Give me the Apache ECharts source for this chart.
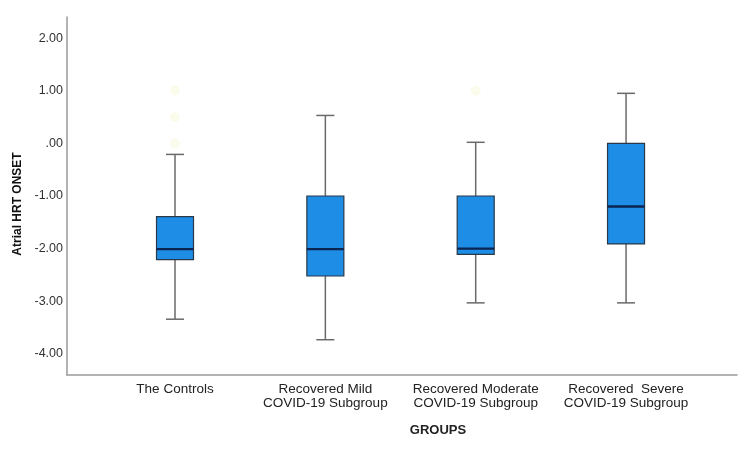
<!DOCTYPE html>
<html>
<head>
<meta charset="utf-8">
<script src="https://cdn.jsdelivr.net/npm/echarts@6/dist/echarts.min.js"></script>
<style>
html,body{margin:0;padding:0;background:#fff;}
#chart{width:750px;height:449px;}
</style>
</head>
<body>
<div id="chart"></div>
<script>
// ---- data ----
const categories = [
  'The Controls',
  'Recovered Mild\nCOVID-19 Subgroup',
  'Recovered Moderate\nCOVID-19 Subgroup',
  'Recovered  Severe\nCOVID-19 Subgroup'
];
const whiskerLow  = [-3.34, -3.73, -3.03, -3.03];
const q1          = [-2.21, -2.52, -2.11, -1.91];
const median      = [-2.01, -2.01, -2.00, -1.20];
const q3          = [-1.39, -1.00, -1.00,  0.00];
const whiskerHigh = [-0.21,  0.53,  0.02,  0.95];
const outlierGroup = [0, 0, 0, 2];
const outlierValue = [1.01, 0.50, 0.00, 1.00];
const yTicks = [-4, -3, -2, -1, 0, 1, 2];

// ---- build ----
const boxData = categories.map((c, i) => [i, whiskerLow[i], q1[i], median[i], q3[i], whiskerHigh[i]]);
const outlierData = outlierGroup.map((g, i) => [g, outlierValue[i]]);

const chart = echarts.init(document.getElementById('chart'));
const FONT = '"Liberation Sans", Arial, sans-serif';

function renderBox(params, api) {
  const x = api.value(0);
  const pLow = api.coord([x, api.value(1)]);
  const pQ1 = api.coord([x, api.value(2)]);
  const pMed = api.coord([x, api.value(3)]);
  const pQ3 = api.coord([x, api.value(4)]);
  const pHigh = api.coord([x, api.value(5)]);
  const cx = pLow[0];
  const hw = 18.5, cap = 9;
  const wStyle = {stroke: '#6a6a6a', lineWidth: 1.5};
  return {
    type: 'group',
    children: [
      {type: 'line', shape: {x1: cx, y1: pHigh[1], x2: cx, y2: pQ3[1]}, style: wStyle},
      {type: 'line', shape: {x1: cx, y1: pQ1[1], x2: cx, y2: pLow[1]}, style: wStyle},
      {type: 'line', shape: {x1: cx - cap, y1: pHigh[1], x2: cx + cap, y2: pHigh[1]}, style: wStyle},
      {type: 'line', shape: {x1: cx - cap, y1: pLow[1], x2: cx + cap, y2: pLow[1]}, style: wStyle},
      {type: 'rect', shape: {x: cx - hw, y: pQ3[1], width: hw * 2, height: pQ1[1] - pQ3[1]},
        style: {fill: '#1d8de6', stroke: '#2a3848', lineWidth: 1.2}},
      {type: 'line', shape: {x1: cx - hw, y1: pMed[1], x2: cx + hw, y2: pMed[1]},
        style: {stroke: '#0b2552', lineWidth: 2.4}}
    ]
  };
}

chart.setOption({
  animation: false,
  backgroundColor: '#ffffff',
  grid: {left: 67, right: 13, top: 17, bottom: 74},
  xAxis: {
    type: 'value',
    min: -0.7184,
    max: 3.738,
    splitLine: {show: false},
    axisTick: {show: false},
    axisLine: {show: true, onZero: false, lineStyle: {color: '#9a9a9a', width: 1.5}},
    axisLabel: {
      customValues: [0, 1, 2, 3],
      formatter: v => categories[Math.round(v)] || '',
      fontFamily: FONT, fontSize: 13.5, color: '#222', lineHeight: 14, margin: 7
    },
    name: 'GROUPS',
    nameLocation: 'middle',
    nameGap: 49,
    nameTextStyle: {fontFamily: FONT, fontSize: 13, fontWeight: 'bold', color: '#222', padding: [0, 0, 0, 72]}
  },
  yAxis: {
    type: 'value',
    min: -4.4,
    max: 2.4,
    splitLine: {show: false},
    axisTick: {show: false},
    axisLine: {show: true, onZero: false, lineStyle: {color: '#9a9a9a', width: 1.5}},
    axisLabel: {
      customValues: yTicks,
      formatter: v => (v === 0 ? '.00' : v.toFixed(2)),
      fontFamily: FONT, fontSize: 12.5, color: '#333', margin: 4
    },
    name: 'Atrial HRT ONSET',
    nameLocation: 'middle',
    nameRotate: 90,
    nameGap: 40,
    nameTextStyle: {fontFamily: FONT, fontSize: 12, fontWeight: 'bold', color: '#111', padding: [0, 16, 0, 0]}
  },
  series: [
    {
      type: 'custom',
      renderItem: renderBox,
      encode: {x: 0, y: [1, 2, 3, 4, 5]},
      data: boxData,
      z: 2
    },
    {
      type: 'scatter',
      data: outlierData,
      symbol: 'circle',
      symbolSize: 9,
      itemStyle: {color: '#fbfbe8', borderColor: '#f6f6dc', borderWidth: 0.5},
      z: 1
    }
  ]
});
</script>
</body>
</html>
